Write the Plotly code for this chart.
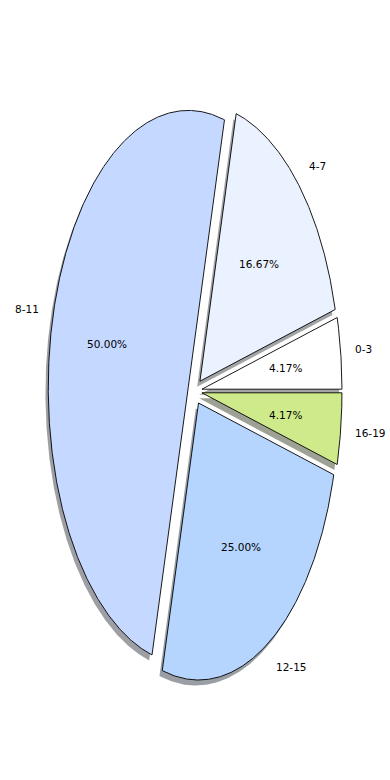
import numpy as np
import plotly.graph_objects as go

labels = ["0-3", "4-7", "8-11", "12-15", "16-19"]
counts = [1, 4, 12, 6, 1]
colors = ["#ffffff", "#ebf2ff", "#c5d8ff", "#b5d5ff", "#cfea8a"]
explode = [0.05, 0.05, 0.05, 0.05, 0.05]

total = sum(counts)
fracs = [c / total for c in counts]

fig = go.Figure()

def hex_rgb(h):
    h = h.lstrip("#")
    return [int(h[i:i + 2], 16) for i in (0, 2, 4)]

wedges = []
theta0 = 0.0
for lab, f, col, ex in zip(labels, fracs, colors, explode):
    t1 = theta0 + 360.0 * f
    tm = np.deg2rad((theta0 + t1) / 2)
    cx, cy = ex * np.cos(tm), ex * np.sin(tm)
    ang = np.deg2rad(np.linspace(theta0, t1, max(int(360 * f), 4) * 3))
    xs = np.concatenate([[cx], cx + np.cos(ang), [cx]])
    ys = np.concatenate([[cy], cy + np.sin(ang), [cy]])
    wedges.append((lab, f, col, cx, cy, tm, xs, ys))
    theta0 = t1

# shadows first
for lab, f, col, cx, cy, tm, xs, ys in wedges:
    r, g, b = hex_rgb(col)
    fig.add_trace(go.Scatter(
        x=xs - 0.02, y=ys - 0.02, mode="lines", fill="toself",
        fillcolor=f"rgba({int(0.3 * r)},{int(0.3 * g)},{int(0.3 * b)},0.5)",
        line=dict(width=0), hoverinfo="skip", showlegend=False))

for lab, f, col, cx, cy, tm, xs, ys in wedges:
    fig.add_trace(go.Scatter(
        x=xs, y=ys, mode="lines", fill="toself", fillcolor=col,
        line=dict(color="black", width=0.9), hoverinfo="skip", showlegend=False))
    lx, ly = cx + 1.1 * np.cos(tm), cy + 1.1 * np.sin(tm)
    fig.add_annotation(x=lx, y=ly, text=lab, showarrow=False,
                       xanchor="left" if lx > 0 else "right", yanchor="middle",
                       xshift=-2 if lx > 0 else 2,
                       font=dict(family="DejaVu Sans", size=10.5, color="black"))
    px, py = cx + 0.6 * np.cos(tm), cy + 0.6 * np.sin(tm)
    fig.add_annotation(x=px, y=py, text=f"{100 * f:.2f}%", showarrow=False,
                       xanchor="center", yanchor="middle",
                       font=dict(family="DejaVu Sans", size=10.5, color="black"))

fig.update_layout(
    width=390, height=780, margin=dict(l=0, r=0, t=0, b=0),
    paper_bgcolor="white", plot_bgcolor="white",
    xaxis=dict(range=[-195 / 140, 195 / 140], visible=False, fixedrange=True),
    yaxis=dict(range=[(391 - 780) / 277, 391 / 277], visible=False, fixedrange=True),
)

fig.write_html("out.html", config={"displayModeBar": False},
               post_script="document.body.style.margin='0px';")
